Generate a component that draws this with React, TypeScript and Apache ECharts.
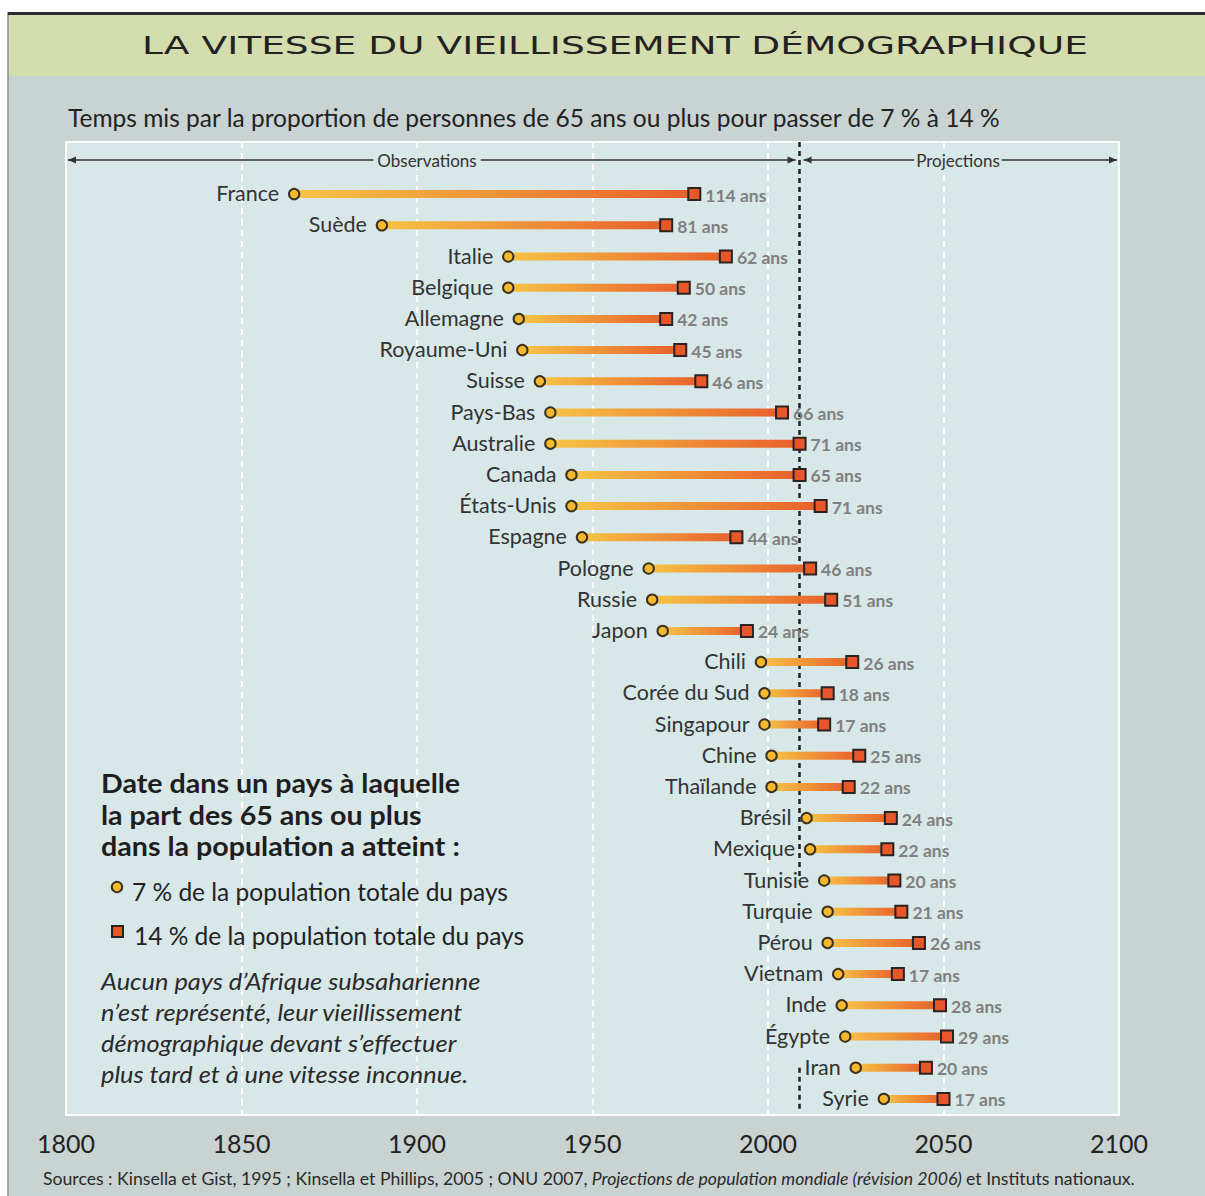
import React, { useEffect, useRef } from "react";
import * as echarts from "echarts";

const countries = [
  "France", "Suède", "Italie", "Belgique", "Allemagne", "Royaume-Uni", "Suisse", "Pays-Bas",
  "Australie", "Canada", "États-Unis", "Espagne", "Pologne", "Russie", "Japon", "Chili",
  "Corée du Sud", "Singapour", "Chine", "Thaïlande", "Brésil", "Mexique", "Tunisie", "Turquie",
  "Pérou", "Vietnam", "Inde", "Égypte", "Iran", "Syrie",
];
const year7 = [
  1865, 1890, 1926, 1926, 1929, 1930, 1935, 1938, 1938, 1944, 1944, 1947, 1966, 1967, 1970, 1998,
  1999, 1999, 2001, 2001, 2011, 2012, 2016, 2017, 2017, 2020, 2021, 2022, 2025, 2033,
];
const year14 = [
  1979, 1971, 1988, 1976, 1971, 1975, 1981, 2004, 2009, 2009, 2015, 1991, 2012, 2018, 1994, 2024,
  2017, 2016, 2026, 2023, 2035, 2034, 2036, 2038, 2043, 2037, 2049, 2051, 2045, 2050,
];
const durationLabels = [
  114, 81, 62, 50, 42, 45, 46, 66, 71, 65, 71, 44, 46, 51, 24, 26, 18, 17, 25, 22, 24, 22, 20, 21,
  26, 17, 28, 29, 20, 17,
];
const xMin = 1800;
const xMax = 2100;
const xStep = 50;
const splitYear = 2009;
// the dashed separator is interrupted behind the labels of these rows
const splitGapRows = [21.5, 27.5];

const titleText = "LA VITESSE DU VIEILLISSEMENT DÉMOGRAPHIQUE";
const subtitleText =
  "Temps mis par la proportion de personnes de 65 ans ou plus pour passer de 7 % à 14 %";
const legendHeading = [
  "Date dans un pays à laquelle",
  "la part des 65 ans ou plus",
  "dans la population a atteint :",
];
const legendItems = ["7 % de la population totale du pays", "14 % de la population totale du pays"];
const noteLines = [
  "Aucun pays d’Afrique subsaharienne",
  "n’est représenté, leur vieillissement",
  "démographique devant s’effectuer",
  "plus tard et à une vitesse inconnue.",
];

const FONT = "Lato, 'Open Sans', sans-serif";
const BG = "#c9d3d2";
const PLOT_BG = "#d8e7e7";
const CIRCLE_FILL = "#f6b92e";
const SQUARE_FILL = "#e8572a";

export default function App() {
  const ref = useRef<HTMLDivElement>(null);

  useEffect(() => {
    document.body.style.margin = "0";
    const chart = echarts.init(ref.current as HTMLDivElement, null, { renderer: "svg" });

    const barData = countries.map((c, i) => [year7[i], year14[i], i, durationLabels[i]]);
    const dashStyle = { color: "#222222", type: [5, 4] as number[], width: 2.5 };

    chart.setOption({
      animation: false,
      backgroundColor: BG,
      grid: [
        {
          left: 66,
          top: 142,
          width: 1053,
          height: 973,
          show: true,
          backgroundColor: PLOT_BG,
          borderColor: "#ffffff",
          borderWidth: 2,
        },
        { left: 66, top: 178.5, width: 1053, height: 936 },
      ],
      xAxis: [
        {
          gridIndex: 0,
          type: "value",
          min: xMin,
          max: xMax,
          interval: xStep,
          axisLine: { show: false },
          axisTick: { show: false },
          axisLabel: {
            fontSize: 25,
            color: "#222",
            fontFamily: FONT,
            margin: 15,
            formatter: (v: number) => String(v),
          },
          splitLine: {
            show: true,
            showMinLine: false,
            showMaxLine: false,
            lineStyle: { color: "#ffffff", type: [6, 5], width: 2 },
          },
        },
        { gridIndex: 1, type: "value", min: xMin, max: xMax, show: false },
      ],
      yAxis: [
        { gridIndex: 0, type: "value", min: 0, max: 1, show: false },
        { gridIndex: 1, type: "category", data: countries, inverse: true, show: false },
      ],
      series: [
        {
          type: "custom",
          xAxisIndex: 1,
          yAxisIndex: 1,
          z: 5,
          data: barData,
          renderItem: (params: any, api: any) => {
            const s = api.value(0);
            const e = api.value(1);
            const idx = api.value(2);
            const d = api.value(3);
            const p1 = api.coord([s, idx]);
            const p2 = api.coord([e, idx]);
            const h = 8;
            return {
              type: "group",
              children: [
                {
                  type: "rect",
                  shape: { x: p1[0], y: p1[1] - h / 2, width: p2[0] - p1[0], height: h },
                  style: {
                    fill: new echarts.graphic.LinearGradient(0, 0, 1, 0, [
                      { offset: 0, color: "#f6c445" },
                      { offset: 1, color: "#e85f2b" },
                    ]),
                  },
                },
                {
                  type: "circle",
                  shape: { cx: p1[0], cy: p1[1], r: 5.2 },
                  style: { fill: CIRCLE_FILL, stroke: "#3a3122", lineWidth: 2 },
                },
                {
                  type: "rect",
                  shape: { x: p2[0] - 6, y: p2[1] - 6, width: 12, height: 12 },
                  style: { fill: SQUARE_FILL, stroke: "#2a2321", lineWidth: 2 },
                },
                {
                  type: "text",
                  x: p1[0] - 15,
                  y: p1[1] - 1,
                  style: {
                    text: countries[idx],
                    textAlign: "right",
                    textVerticalAlign: "middle",
                    fontSize: 21.5,
                    fontFamily: FONT,
                    fill: "#333333",
                  },
                },
                {
                  type: "text",
                  x: p2[0] + 11,
                  y: p2[1] + 1,
                  style: {
                    text: d + " ans",
                    textAlign: "left",
                    textVerticalAlign: "middle",
                    fontSize: 17.5,
                    fontWeight: "bold",
                    fontFamily: FONT,
                    fill: "#808080",
                  },
                },
              ],
            };
          },
        },
        {
          id: "split",
          type: "line",
          xAxisIndex: 0,
          yAxisIndex: 0,
          data: [],
          z: 10,
          markLine: {
            silent: true,
            symbol: "none",
            label: { show: false },
            lineStyle: dashStyle,
            data: [{ xAxis: splitYear }],
          },
        },
      ],
    });

    // split the dashed separator where the row labels sit
    const rowPx = (r: number) => chart.convertToPixel({ yAxisIndex: 1 }, r) as number;
    const toV = (py: number) => chart.convertFromPixel({ yAxisIndex: 0 }, py) as number;
    const gapTop = toV(rowPx(splitGapRows[0]));
    const gapBot = toV(rowPx(splitGapRows[1]));
    chart.setOption({
      series: [
        {
          id: "split",
          markLine: {
            data: [
              [{ coord: [splitYear, 1] }, { coord: [splitYear, gapTop] }],
              [{ coord: [splitYear, gapBot] }, { coord: [splitYear, 0.005] }],
            ],
          },
        },
      ],
    });

    const X = (yr: number) => chart.convertToPixel({ xAxisIndex: 0 }, yr) as number;
    const xl = X(xMin);
    const xr = X(xMax);
    const xs = X(splitYear);
    const arrowY = 160;
    const txtStyle = {
      fontSize: 17,
      fontFamily: FONT,
      fill: "#333",
      textVerticalAlign: "middle",
    };
    const arrow = (x: number, dir: number) => ({
      type: "polygon",
      z: 100,
      shape: {
        points: [
          [x, arrowY],
          [x - dir * 8, arrowY - 3.5],
          [x - dir * 8, arrowY + 3.5],
        ],
      },
      style: { fill: "#333" },
    });

    const graphic: any[] = [
      { type: "rect", z: 0, shape: { x: 0, y: 0, width: 1205, height: 12 }, style: { fill: "#ffffff" } },
      { type: "rect", z: 0, shape: { x: 0, y: 0, width: 7.5, height: 1196 }, style: { fill: "#ffffff" } },
      { type: "line", z: 1, shape: { x1: 8, y1: 12, x2: 8, y2: 1196 }, style: { stroke: "#8a8f8e", lineWidth: 1.5 } },
      { type: "line", z: 1, shape: { x1: 8, y1: 13.5, x2: 1205, y2: 13.5 }, style: { stroke: "#2b2b2b", lineWidth: 3 } },
      { type: "rect", z: 1, shape: { x: 9, y: 15, width: 1196, height: 61 }, style: { fill: "#d3ddae" } },
      {
        type: "text",
        z: 2,
        x: 615,
        y: 46,
        scaleX: 1.565,
        style: {
          text: titleText,
          textAlign: "center",
          textVerticalAlign: "middle",
          fontSize: 24,
          fontFamily: "'DejaVu Sans', sans-serif",
          fill: "#222",
        },
      },
      {
        type: "text",
        z: 2,
        x: 68,
        y: 117,
        style: {
          text: subtitleText,
          textAlign: "left",
          textVerticalAlign: "middle",
          fontSize: 24.5,
          fontFamily: FONT,
          fill: "#222",
        },
      },
      // Observations / Projections
      { type: "line", z: 100, shape: { x1: xl + 2, y1: arrowY, x2: xs - 4, y2: arrowY }, style: { stroke: "#333", lineWidth: 1.3 } },
      arrow(xl + 2, -1),
      arrow(xs - 4, 1),
      {
        type: "text",
        z: 101,
        x: 427,
        y: arrowY,
        style: { ...txtStyle, text: "Observations", textAlign: "center", backgroundColor: PLOT_BG, padding: [0, 4] },
      },
      { type: "line", z: 100, shape: { x1: xs + 4, y1: arrowY, x2: xr - 2, y2: arrowY }, style: { stroke: "#333", lineWidth: 1.3 } },
      arrow(xs + 4, -1),
      arrow(xr - 2, 1),
      {
        type: "text",
        z: 101,
        x: 958,
        y: arrowY,
        style: { ...txtStyle, text: "Projections", textAlign: "center", backgroundColor: PLOT_BG, padding: [0, 2] },
      },
      // Legend heading
      ...legendHeading.map((t, i) => ({
        type: "text",
        z: 100,
        x: 101,
        y: 783 + i * 31.5,
        scaleX: 1.08,
        style: {
          text: t,
          textAlign: "left",
          textVerticalAlign: "middle",
          fontSize: 26.5,
          fontWeight: "bold",
          fontFamily: FONT,
          fill: "#1e1e1e",
        },
      })),
      {
        type: "circle",
        z: 100,
        shape: { cx: 117, cy: 887, r: 5.2 },
        style: { fill: CIRCLE_FILL, stroke: "#3a3122", lineWidth: 2 },
      },
      {
        type: "rect",
        z: 100,
        shape: { x: 112, y: 926, width: 11, height: 11 },
        style: { fill: SQUARE_FILL, stroke: "#2a2321", lineWidth: 2 },
      },
      ...legendItems.map((t, i) => ({
        type: "text",
        z: 100,
        x: i === 0 ? 132 : 134,
        y: 891 + i * 44,
        style: {
          text: t,
          textAlign: "left",
          textVerticalAlign: "middle",
          fontSize: 24.5,
          fontFamily: FONT,
          fill: "#222",
        },
      })),
      ...noteLines.map((t, i) => ({
        type: "text",
        z: 100,
        x: 101,
        y: 981 + i * 31,
        scaleX: 1.08,
        style: {
          text: t,
          textAlign: "left",
          textVerticalAlign: "middle",
          fontSize: 23.5,
          fontStyle: "italic",
          fontFamily: FONT,
          fill: "#2a2a2a",
        },
      })),
      {
        type: "text",
        z: 100,
        x: 43,
        y: 1179,
        scaleX: 1.05,
        style: {
          text:
            "Sources : Kinsella et Gist, 1995 ; Kinsella et Phillips, 2005 ; ONU 2007, {i|Projections de population mondiale (révision 2006)} et Instituts nationaux.",
          textAlign: "left",
          textVerticalAlign: "middle",
          fontSize: 16.8,
          fontFamily: FONT,
          fill: "#2a2a2a",
          rich: {
            i: { fontStyle: "italic", fontSize: 16.8, fontFamily: FONT, fill: "#2a2a2a" },
          },
        },
      },
    ];

    chart.setOption({ graphic });

    return () => chart.dispose();
  }, []);

  return <div ref={ref} style={{ width: 1205, height: 1196 }} />;
}
